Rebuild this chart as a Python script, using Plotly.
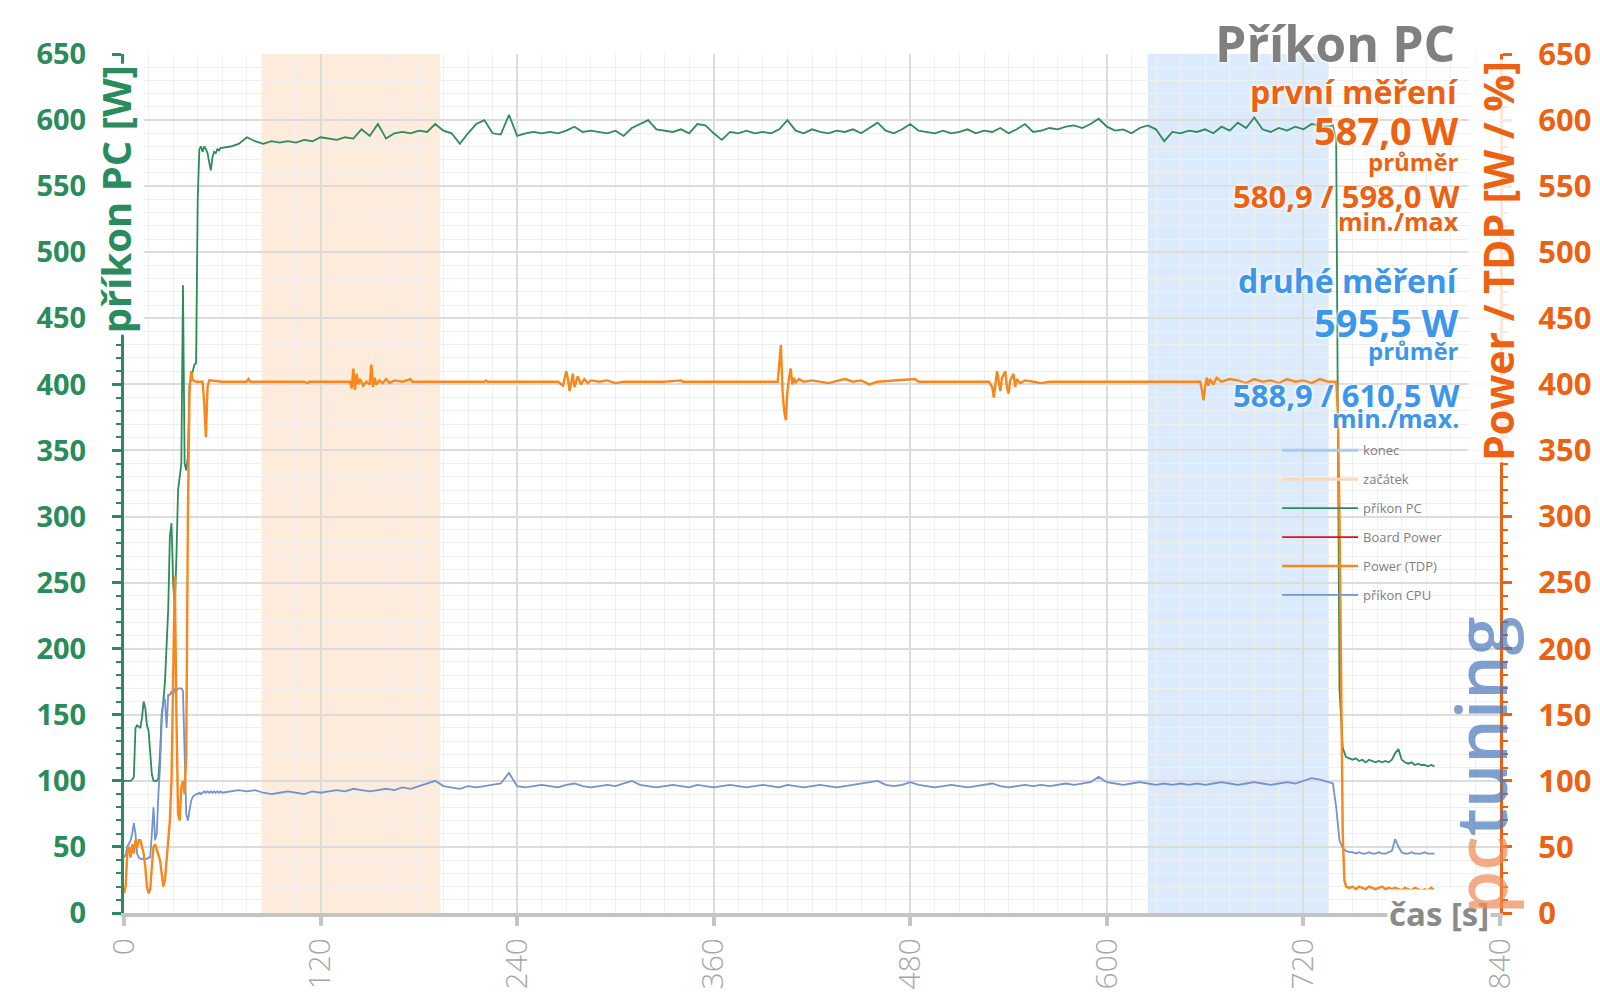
import plotly.graph_objects as go

# sampling grid of the PC and CPU meters (1 s at start, 5 s in the middle, 2 s at the end)
TIME = list(range(0, 60)) + list(range(60, 736, 5)) + list(range(738, 801, 2))

PC_POWER = [
    # 0-59 s
    100, 100, 100, 100, 100, 101, 103, 140, 142, 141,
    140, 148, 160, 155, 142, 138, 120, 105, 100, 100,
    100, 102, 120, 150, 160, 175, 200, 230, 285, 295,
    250, 230, 270, 320, 330, 340, 475, 340, 335, 345,
    400, 405, 410, 415, 416, 540, 578, 580, 576, 580,
    578, 575, 568, 562, 572, 576, 575, 578, 577, 579,
    # 60-735 s
    579, 580, 582, 587, 584, 582, 584, 583, 584, 583,
    585, 584, 587, 586, 585, 587, 586, 593, 588, 597,
    586, 590, 591, 590, 592, 591, 597, 592, 590, 582,
    590, 597, 600, 590, 589, 604, 588, 590, 591, 590,
    591, 590, 592, 595, 591, 592, 591, 590, 592, 588,
    594, 597, 600, 593, 592, 591, 593, 590, 597, 596,
    590, 585, 591, 590, 592, 590, 591, 590, 593, 600,
    592, 590, 593, 591, 590, 592, 591, 593, 590, 594,
    598, 592, 590, 593, 597, 592, 591, 590, 592, 590,
    591, 593, 590, 592, 591, 594, 590, 593, 597, 591,
    592, 594, 593, 595, 596, 594, 597, 601, 595, 592,
    593, 590, 594, 596, 593, 584, 591, 590, 592, 591,
    593, 590, 595, 592, 598, 594, 602, 593, 591, 594,
    592, 595, 593, 597, 596, 595,
    # 738-800 s
    596, 585, 170, 125, 118, 117, 116, 117, 115, 116,
    114, 116, 115, 114, 115, 114, 115, 114, 116, 121,
    124, 116, 114, 113, 114, 112, 113, 112, 112, 111,
    112, 111,
]

CPU_POWER = [
    # 0-59 s
    42, 44, 50, 52, 55, 60, 68, 60, 45, 42,
    41, 41, 41, 41, 41, 42, 42, 60, 80, 55,
    60, 90, 110, 145, 160, 162, 140, 165, 165, 168,
    165, 170, 168, 170, 170, 170, 168, 110, 75, 70,
    78, 85, 88, 89, 90, 90, 91, 90, 91, 92,
    91, 92, 91, 92, 91, 92, 91, 92, 91, 92,
    # 60-735 s
    91, 92, 93, 92, 93, 91, 90, 91, 92, 91,
    90, 92, 91, 92, 93, 92, 94, 93, 92, 93,
    94, 93, 95, 94, 96, 98, 100, 96, 95, 94,
    96, 95, 96, 97, 98, 106, 96, 95, 96, 97,
    96, 95, 97, 98, 96, 95, 96, 97, 96, 98,
    100, 97, 96, 95, 96, 97, 96, 95, 97, 96,
    95, 96, 97, 96, 95, 96, 97, 96, 95, 97,
    96, 95, 96, 97, 96, 95, 96, 97, 98, 99,
    100, 97, 96, 97, 99, 97, 96, 95, 96, 97,
    96, 95, 96, 97, 98, 96, 95, 96, 97, 96,
    97, 96, 97, 98, 97, 98, 99, 103, 99, 98,
    97, 98, 99, 98, 97, 98, 97, 98, 97, 98,
    97, 98, 99, 98, 97, 98, 99, 98, 97, 98,
    99, 98, 100, 102, 101, 99,
    # 738-800 s
    98, 80, 55, 49, 47, 46, 46, 45, 46, 45,
    45, 46, 45, 45, 46, 45, 45, 46, 47, 56,
    50, 46, 45, 45, 46, 45, 45, 45, 46, 45,
    45, 45,
]

TDP_TIME = [
    0, 1, 2, 3, 4, 5, 6, 7, 8, 9, 10, 11, 12, 13, 14, 15, 16, 17, 18, 19, 20,
    21, 22, 23, 24, 25, 26, 27, 28, 29, 30, 31, 32, 33, 34, 35, 36, 37, 38, 39, 40,
    41, 42, 44, 48, 49, 50, 51, 52, 60,
    75, 76, 77, 100, 110, 112, 113, 138, 139, 140, 141, 142, 143, 144, 146, 148,
    150, 151, 152, 153, 154, 156, 158, 160, 162, 165, 170, 175, 176, 220, 221, 222,
    265, 268, 270, 271, 272, 274, 275, 277, 279, 281, 283, 285, 290, 295, 300, 305,
    330, 340, 341, 360, 399, 400, 401, 402, 403, 404, 405, 406, 407, 408, 409, 410,
    412, 415, 420, 430, 440, 445, 450, 455, 460, 483, 485, 528, 530, 531, 532, 533,
    534, 535, 536, 538, 539, 540, 541, 543, 544, 545, 547, 550, 555, 560, 565, 600,
    657, 658, 659, 660, 661, 662, 663, 665, 667, 670, 675, 680, 685, 690, 695, 700,
    705, 710, 715, 720, 725, 730, 735, 740, 741, 742, 743, 744, 745, 746, 748, 750,
    752, 754, 756, 758, 760, 762, 764, 766, 768, 770, 772, 774, 776, 778, 780, 782,
    784, 786, 788, 790, 792, 794, 796, 798, 800,
]

TDP_POWER = [
    15, 20, 45, 50, 42, 52, 45, 55, 50, 55, 55, 50, 45, 35, 20, 15, 18, 35, 50, 52, 48,
    45, 40, 30, 20, 25, 40, 60, 70, 100, 180, 255, 150, 75, 70, 95, 100, 90, 120, 300, 395,
    410, 403, 402, 402, 385, 360, 398, 403, 402,
    402, 404, 402, 402, 402, 401, 402, 402, 397, 412, 396, 408, 400, 404, 399, 402,
    400, 415, 398, 405, 400, 403, 401, 404, 401, 403, 402, 404, 402, 402, 403, 402,
    402, 399, 410, 404, 395, 408, 398, 406, 400, 404, 401, 403, 402, 403, 401, 402,
    402, 403, 402, 402, 402, 415, 430, 395, 380, 373, 395, 405, 412, 400, 405, 401,
    404, 402, 403, 401, 404, 402, 403, 400, 402, 404, 402, 402, 398, 390, 400, 410,
    402, 395, 405, 410, 398, 393, 403, 408, 398, 404, 401, 403, 402, 401, 402, 402,
    402, 396, 388, 398, 405, 399, 404, 400, 405, 402, 404, 403, 401, 404, 402, 403,
    401, 404, 402, 403, 401, 404, 402, 402, 380, 300, 150, 60, 25, 20, 19, 20,
    18, 20, 19, 18, 20, 19, 18, 19, 20, 18, 19, 18, 19, 18, 17, 19,
    18, 17, 19, 18, 17, 18, 17, 19, 17,
]

START_WINDOW = (84, 193)
END_WINDOW = (625, 735)
X_TICKS = [0, 120, 240, 360, 480, 600, 720, 840]
Y_TICKS = list(range(0, 651, 50))

GREEN = "#2a8c5c"
ORANGE = "#ec6212"
BLUE_TEXT = "#3c96ea"
GRAY = "#8a8a8a"
FONT = "Open Sans"
GLOW = "0px 0px 3px #ffffff, 0px 0px 5px #ffffff"

fig = go.Figure()
fig.add_vrect(x0=START_WINDOW[0], x1=START_WINDOW[1], fillcolor="#fdebdc", line_width=0, layer="below")
fig.add_vrect(x0=END_WINDOW[0], x1=END_WINDOW[1], fillcolor="#dcebfb", line_width=0, layer="below")

legend_only = [("konec", "#a8cbf0", 3), ("začátek", "#f8d8bf", 3)]
for name, color, width in legend_only:
    fig.add_trace(go.Scatter(x=[None], y=[None], mode="lines", name=name,
                             line={"color": color, "width": width}, legendgroup=name))

fig.add_trace(go.Scatter(x=TIME, y=PC_POWER, mode="lines", name="příkon PC",
                         line={"color": "#2e8b5a", "width": 1.8}, legendgroup="pc"))
fig.add_trace(go.Scatter(x=[None], y=[None], mode="lines", name="Board Power",
                         line={"color": "#e3101a", "width": 1.8}, legendgroup="board"))
fig.add_trace(go.Scatter(x=TDP_TIME, y=TDP_POWER, mode="lines", name="Power (TDP)", yaxis="y2",
                         line={"color": "#f8871c", "width": 2.4}, legendgroup="tdp"))
fig.add_trace(go.Scatter(x=TIME, y=CPU_POWER, mode="lines", name="příkon CPU",
                         line={"color": "#7393cf", "width": 1.8}, legendgroup="cpu"))

fig.update_layout(
    width=1600,
    height=1008,
    margin={"l": 116, "r": 108, "t": 46, "b": 103},
    plot_bgcolor="#ffffff",
    paper_bgcolor="#ffffff",
    font={"family": FONT},
    showlegend=True,
    legend={
        "x": 0.838, "y": 0.556, "xanchor": "left", "yanchor": "top",
        "bgcolor": "rgba(0,0,0,0)", "font": {"size": 13, "color": "#808080"},
        "tracegroupgap": 9, "itemwidth": 76,
    },
)

fig.update_xaxes(
    range=[0, 840], tickvals=X_TICKS, tickangle=-90,
    tickfont={"size": 30, "color": "#a6a6a6", "family": FONT, "weight": 300},
    showline=True, linecolor="#c4c4c4", linewidth=4,
    ticks="outside", ticklen=9, tickwidth=4, tickcolor="#c4c4c4",
    showgrid=True, gridcolor="#dcdcdc", gridwidth=1.5, zeroline=False,
    minor={"dtick": 15, "showgrid": True, "gridcolor": "#f0f0f0", "gridwidth": 1.2},
)
fig.update_layout(
    yaxis={
        "range": [0, 650], "tickvals": Y_TICKS, "ticklabelstandoff": 20,
        "tickfont": {"size": 29, "color": GREEN, "family": FONT, "weight": "bold"},
        "showline": True, "linecolor": GREEN, "linewidth": 3,
        "ticks": "outside", "ticklen": 9, "tickwidth": 3, "tickcolor": GREEN,
        "showgrid": True, "gridcolor": "#dcdcdc", "gridwidth": 1.5, "zeroline": False,
        "minor": {"dtick": 10, "showgrid": True, "gridcolor": "#efefef", "gridwidth": 1.2,
                  "ticks": "outside", "ticklen": 5, "tickwidth": 2, "tickcolor": GREEN},
    },
    yaxis2={
        "range": [0, 650], "tickvals": Y_TICKS, "overlaying": "y", "side": "right",
        "ticklabelstandoff": 20,
        "tickfont": {"size": 31, "color": ORANGE, "family": FONT, "weight": "bold"},
        "showline": True, "linecolor": ORANGE, "linewidth": 3,
        "ticks": "outside", "ticklen": 9, "tickwidth": 3, "tickcolor": ORANGE,
        "showgrid": False, "zeroline": False,
        "minor": {"dtick": 10, "ticks": "outside", "ticklen": 5, "tickwidth": 2, "tickcolor": ORANGE},
    },
)

# title and summary texts, right aligned against the right axis
summary = [
    ("Příkon PC", 0.9688, 1.0128, 50, "#808080"),
    ("první měření", 0.972, 0.9558, 32, ORANGE),
    ("587,0 W", 0.972, 0.912, 38, ORANGE),
    ("průměr", 0.972, 0.8754, 24, ORANGE),
    ("580,9 / 598,0 W", 0.972, 0.8347, 31, ORANGE),
    ("min./max", 0.972, 0.8051, 25, ORANGE),
    ("druhé měření", 0.972, 0.7362, 32, BLUE_TEXT),
    ("595,5 W", 0.972, 0.6875, 38, BLUE_TEXT),
    ("průměr", 0.972, 0.6554, 24, BLUE_TEXT),
    ("588,9 / 610,5 W", 0.972, 0.603, 31, BLUE_TEXT),
    ("min./max.", 0.972, 0.576, 25, BLUE_TEXT),
]
for text, xpos, ypos, size, color in summary:
    fig.add_annotation(
        text=text, xref="paper", yref="paper", x=xpos, y=ypos,
        xanchor="right", yanchor="middle", showarrow=False,
        font={"size": size, "color": color, "family": FONT, "weight": "bold", "shadow": GLOW},
    )

# axis titles
fig.add_annotation(
    text="příkon PC [W]", xref="paper", yref="paper", x=-0.0065, y=0.831,
    xanchor="center", yanchor="middle", textangle=-90, showarrow=False, bgcolor="#ffffff",
    font={"size": 40, "color": GREEN, "family": FONT, "weight": "bold"},
)
fig.add_annotation(
    text="Power / TDP [W / %]", xref="paper", yref="paper", x=0.9985, y=0.759,
    xanchor="center", yanchor="middle", textangle=-90, showarrow=False,
    bgcolor="rgba(255,255,255,0.85)",
    font={"size": 41, "color": ORANGE, "family": FONT, "weight": "bold"},
)
fig.add_annotation(
    text="čas [s]", xref="paper", yref="paper", x=0.956, y=0.0,
    xanchor="center", yanchor="middle", showarrow=False, bgcolor="#ffffff",
    font={"size": 33, "color": GRAY, "family": FONT, "weight": "bold"},
)

# site watermark
fig.add_annotation(
    text="<span style='color:#f08a55'>pc</span><span style='color:#4a78bb'>tuning</span>",
    xref="paper", yref="paper", x=0.9855, y=0.172, xanchor="center", yanchor="middle",
    textangle=-90, showarrow=False, opacity=0.7,
    font={"size": 70, "family": FONT, "weight": 600},
)

fig.write_html("out.html")
